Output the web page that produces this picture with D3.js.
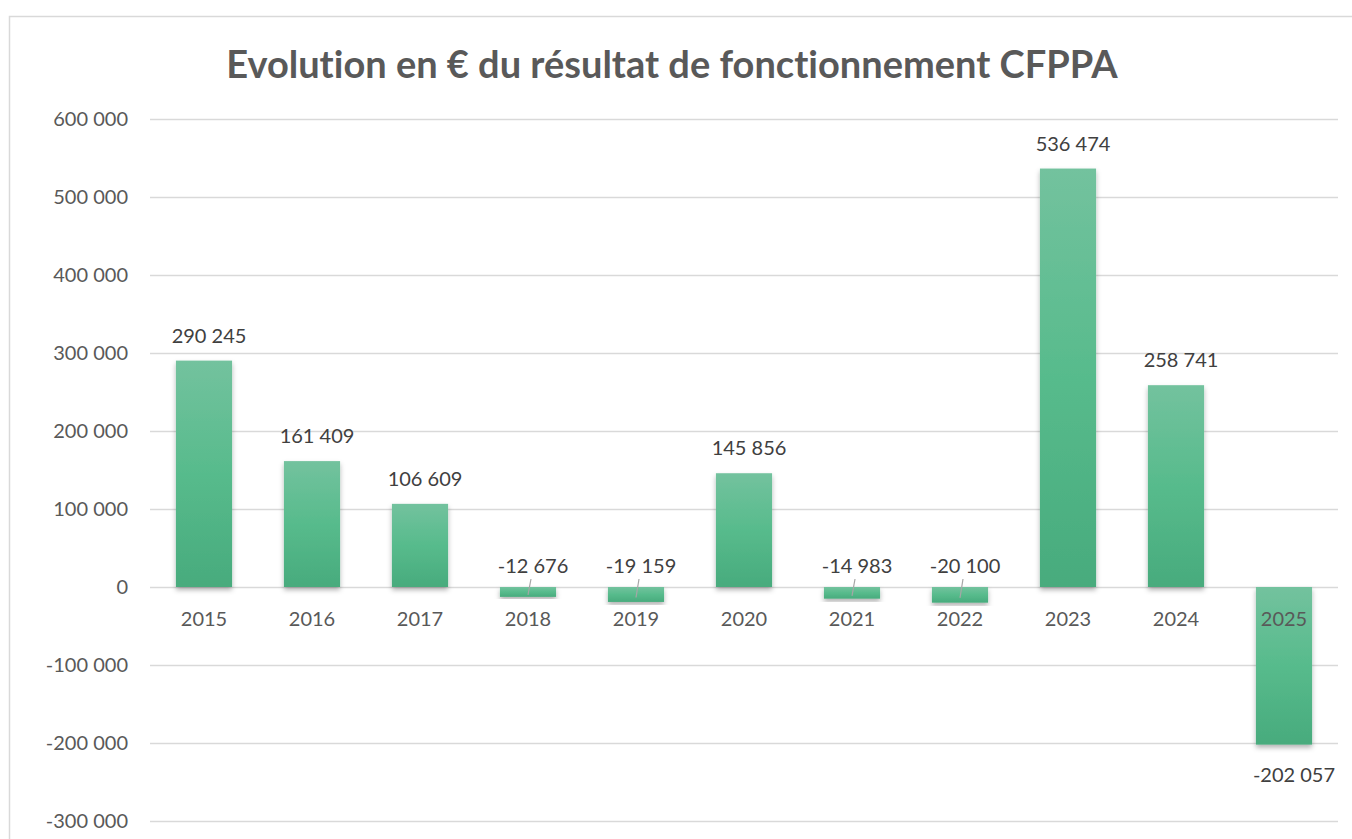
<!DOCTYPE html>
<html>
<head>
<meta charset="utf-8">
<script src="https://cdn.jsdelivr.net/npm/d3@7"></script>
<style>
  body { margin: 0; background: #fff; }
  svg { display: block; font-family: Lato, "Open Sans", sans-serif; font-variant-ligatures: none; }
</style>
</head>
<body>
<svg id="chart" width="1352" height="839"></svg>
<script>
// data
const years = ['2015', '2016', '2017', '2018', '2019', '2020', '2021', '2022', '2023', '2024', '2025'];
const results = [290245, 161409, 106609, -12676, -19159, 145856, -14983, -20100, 536474, 258741, -202057];
const yTicks = [600000, 500000, 400000, 300000, 200000, 100000, 0, -100000, -200000, -300000];

const svg = d3.select('#chart');
const W = 1352;
const H = 839;

// number format with a space as thousands separator
const fmt = (v) => d3.format(',')(v).replace(/,/g, ' ').replace('−', '-');

// chart frame
svg.append('rect')
  .attr('x', 9.5).attr('y', 16.5)
  .attr('width', W + 20).attr('height', H + 20)
  .attr('fill', '#fff').attr('stroke', '#d9d9d9').attr('stroke-width', 1.5);

// title
svg.append('text')
  .attr('x', 672).attr('y', 78)
  .attr('text-anchor', 'middle')
  .attr('font-size', 38).attr('font-weight', 'bold')
  .attr('fill', '#595959')
  .text('Evolution en € du résultat de fonctionnement CFPPA');

const x = d3.scaleBand().domain(years).range([150, 1338]).paddingInner(0.48).paddingOuter(0.24);
const y = d3.scaleLinear().domain([-300000, 600000]).range([821, 119]);

// gradient + shadow
const defs = svg.append('defs');
const grad = defs.append('linearGradient').attr('id', 'barGrad')
  .attr('x1', 0).attr('y1', 0).attr('x2', 0).attr('y2', 1);
grad.append('stop').attr('offset', '0%').attr('stop-color', '#73c29e');
grad.append('stop').attr('offset', '50%').attr('stop-color', '#57bb8c');
grad.append('stop').attr('offset', '100%').attr('stop-color', '#48ab7d');
const shadow = defs.append('filter').attr('id', 'shadow')
  .attr('x', '-20%').attr('y', '-20%').attr('width', '140%').attr('height', '140%');
shadow.append('feDropShadow')
  .attr('dx', 0).attr('dy', 3).attr('stdDeviation', 2.5)
  .attr('flood-color', '#000').attr('flood-opacity', 0.3);

// grid lines and y labels
const yAxis = d3.axisLeft(y).tickValues(yTicks).tickSize(-(1338 - 150)).tickFormat(fmt).tickPadding(22);
const gy = svg.append('g').attr('transform', 'translate(150,0)').call(yAxis);
gy.select('.domain').remove();
gy.selectAll('.tick line').attr('stroke', '#d9d9d9').attr('stroke-width', 1.5);
gy.selectAll('.tick text')
  .attr('fill', '#595959').attr('font-size', 20)
  .attr('font-family', 'Lato, "Open Sans", sans-serif');

// bars
const data = years.map((yr, i) => ({ year: yr, value: results[i] }));
svg.append('g').selectAll('rect').data(data).join('rect')
  .attr('x', (d) => x(d.year))
  .attr('width', x.bandwidth())
  .attr('y', (d) => y(Math.max(0, d.value)))
  .attr('height', (d) => Math.abs(y(d.value) - y(0)))
  .attr('fill', 'url(#barGrad)')
  .attr('filter', 'url(#shadow)');

// category labels just below the zero line
svg.append('g').selectAll('text').data(data).join('text')
  .attr('x', (d) => x(d.year) + x.bandwidth() / 2)
  .attr('y', y(0) + 39)
  .attr('text-anchor', 'middle')
  .attr('font-size', 20).attr('fill', '#595959')
  .text((d) => d.year);

// value labels
const labels = svg.append('g');
data.forEach((d) => {
  const cx = x(d.year) + x.bandwidth() / 2;
  let ly;
  if (d.value >= 0) {
    ly = y(d.value) - 18;
  } else if (d.value > -50000) {
    ly = y(0) - 14;
    // leader line into the small negative bar
    labels.append('line')
      .attr('x1', cx + 3).attr('y1', y(0) - 8)
      .attr('x2', cx).attr('y2', (y(0) + y(d.value)) / 2 + 3)
      .attr('stroke', '#a6a6a6').attr('stroke-width', 1.2);
  } else {
    ly = y(d.value) + 37;
  }
  labels.append('text')
    .attr('x', d.value < -50000 ? cx + 10 : cx + 5)
    .attr('y', ly)
    .attr('text-anchor', 'middle')
    .attr('font-size', 20).attr('fill', '#404040')
    .text(fmt(d.value));
});
</script>
</body>
</html>
